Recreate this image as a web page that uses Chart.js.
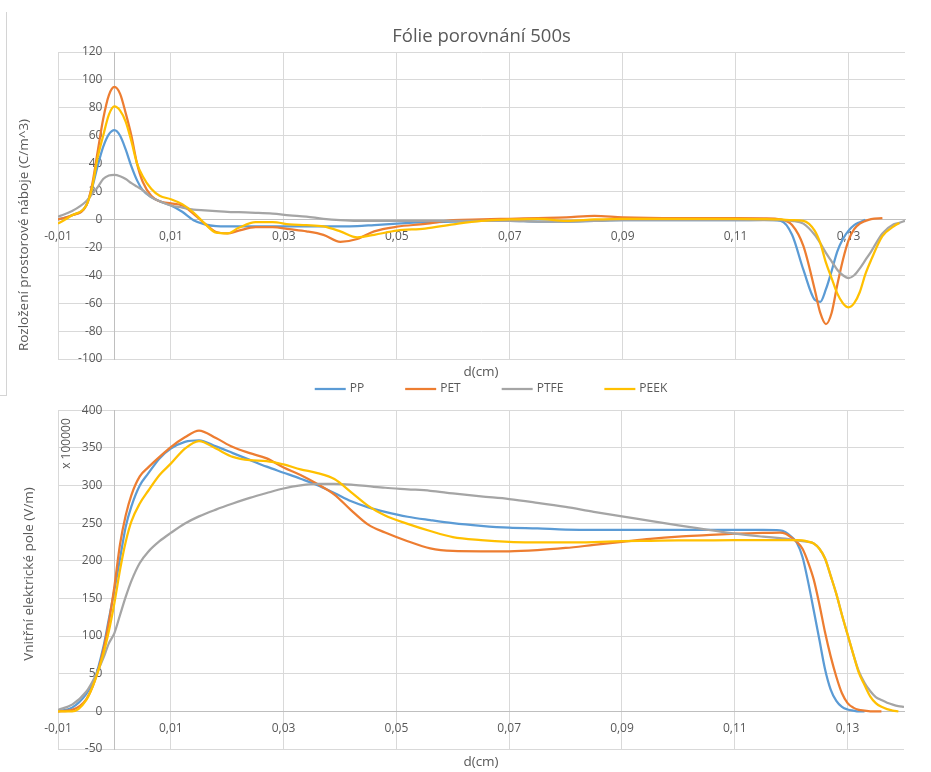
<!DOCTYPE html>
<html>
<head>
<meta charset="utf-8">
<title>Fólie porovnání 500s</title>
<script src="https://cdn.jsdelivr.net/npm/chart.js@4.4.1/dist/chart.umd.min.js"></script>
<style>
  body { margin: 0; background: #fff; width: 931px; height: 772px; position: relative; overflow: hidden; }
  canvas { position: absolute; left: 0; }
  #chargeChart { top: 0; }
  #fieldChart { top: 400px; }
  .frame-v { position: absolute; left: 6px; top: 12px; height: 383px; border-left: 1px solid #d4d4d4; }
  .frame-h { position: absolute; left: 0; top: 395px; width: 7px; border-top: 1px solid #d4d4d4; }
</style>
</head>
<body>
<div class="frame-v"></div>
<div class="frame-h"></div>
<canvas id="chargeChart" width="931" height="400"></canvas>
<canvas id="fieldChart" width="931" height="372"></canvas>
<script>
const seriesNames = ["PP", "PET", "PTFE", "PEEK"];
const seriesColors = ["#5b9bd5", "#ed7d31", "#a5a5a5", "#ffc000"];
const xTickValues = [-0.01, 0.01, 0.03, 0.05, 0.07, 0.09, 0.11, 0.13];

// space charge distribution, d(cm) vs C/m^3
const xCharge = [
  -0.01, -0.0075, -0.005, -0.004, -0.003, -0.002, -0.001, 0, 0.001, 0.002,
  0.003, 0.004, 0.005, 0.0065, 0.008, 0.01, 0.012, 0.014, 0.016, 0.018,
  0.02, 0.022, 0.025, 0.028, 0.031, 0.034, 0.037, 0.04, 0.043, 0.046,
  0.05, 0.055, 0.06, 0.065, 0.07, 0.075, 0.08, 0.085, 0.09, 0.1,
  0.11, 0.115, 0.118, 0.12, 0.122, 0.124, 0.125, 0.126, 0.127, 0.128,
  0.129, 0.13, 0.131, 0.132, 0.133, 0.134, 0.136, 0.138, 0.139, 0.14,
];
const ppCharge = [
  0, 3, 10, 22, 38, 52, 61, 64, 60, 50,
  38, 28, 21, 16, 13, 10, 5.5, -0.5, -3.5, -4.8,
  -5, -5, -5, -5, -5, -5, -5, -5, -4.8, -4,
  -3, -2, -1.5, -1, -1, -1.5, -1.5, -1, -0.5, -0.5,
  -0.5, -0.3, -1, -11, -36, -57.5, -59, -50, -37, -23,
  -14, -8, -4, -2, -0.3, null, null, null, null, null,
];
const petCharge = [
  0, 3, 10, 24, 48, 72, 89, 95, 90, 76,
  60, 40, 27, 17, 13, 11.5, 10, 4, -3, -9,
  -10, -8, -5.5, -5.5, -7, -8.5, -11, -16, -14, -8.5,
  -5.2, -3.2, -0.5, 0, 0.5, 1, 1.5, 2.5, 1.5, 1,
  1, 0.8, 0, -4, -19, -50, -67, -75, -67, -47,
  -29, -15, -7, -3, -1, 0.3, 1, null, null, null,
];
const ptfeCharge = [
  2, 6, 13, 18, 23, 29, 31.5, 32, 31, 29,
  26, 23.5, 21, 16, 13, 10, 8.5, 7, 6.5, 6,
  5.5, 5.2, 4.8, 4.2, 3, 2, 0.5, -0.5, -1, -1,
  -1, -1, -1, -1, -1, -1.5, -1.5, -1, -0.5, -0.5,
  -0.5, -0.5, -0.5, -1, -3, -11, -17, -24, -30, -36,
  -40, -42, -40, -35, -29, -23, -10, -3.5, -2.5, -1,
];
const peekCharge = [
  -3, 3, 10, 22, 44, 60, 75, 81, 78, 70,
  56, 40, 31, 22, 17, 14.5, 11, 5, -3, -9.5,
  -10, -6, -2, -2, -3.5, -4, -5, -8.5, -12.8, -11,
  -8, -6.5, -3.5, -1, 0, 0.5, -1, 0, 0.5, 0.5,
  0.5, 0.3, 0, -0.5, -1, -8, -17, -31, -42, -53,
  -60, -63, -60, -52, -39, -29, -12, -5, -2.5, null,
];

// internal electric field, d(cm) vs V/m (x 100000)
const xField = [
  -0.01, -0.0075, -0.005, -0.0035, -0.002, -0.001, 0, 0.001, 0.002, 0.003,
  0.0045, 0.006, 0.008, 0.01, 0.0125, 0.015, 0.018, 0.021, 0.024, 0.027,
  0.03, 0.033, 0.036, 0.039, 0.042, 0.045, 0.048, 0.052, 0.056, 0.06,
  0.065, 0.07, 0.075, 0.08, 0.085, 0.09, 0.095, 0.1, 0.105, 0.11,
  0.115, 0.118, 0.119, 0.12, 0.121, 0.122, 0.123, 0.124, 0.125, 0.126,
  0.127, 0.128, 0.129, 0.13, 0.131, 0.132, 0.133, 0.134, 0.135, 0.136,
  0.137, 0.138, 0.139, 0.14,
];
const ppField = [
  0, 5, 23, 43, 84, 122, 161, 203, 245, 272,
  300, 316, 336, 349, 358, 360, 352, 343, 334, 325,
  317, 309, 300.5, 290, 279, 271, 265, 258.5, 254, 250,
  246.5, 244, 243, 241.5, 241, 241, 241, 241, 241, 241,
  241, 240.5, 238, 232, 224, 205, 172, 134, 95, 56,
  29, 14, 6, 2.5, 1, 0, 0, null, null, null,
  null, null, null, null,
];
const petField = [
  0, 2, 16, 40, 80, 118, 166, 222, 260, 287,
  312, 324, 338, 351, 364, 373, 363, 351, 343, 336,
  324, 314, 302, 288, 267, 248, 237.5, 226, 216.5, 213,
  212.5, 212.5, 214, 217, 221, 225, 229, 232, 234, 236,
  237, 237.5, 236, 231, 225, 216, 198, 175, 142, 105,
  73, 46, 24, 11, 5, 2, 1, 0, 0, 0,
  null, null, null, null,
];
const ptfeField = [
  2, 9, 26, 45, 70, 90, 104, 128, 152, 173,
  197, 212, 226, 237, 249.5, 259, 268, 276, 283.5, 290,
  296, 300, 302, 302, 301, 299, 297, 295, 293, 289.5,
  285.5, 282, 277, 271.5, 265, 259, 253, 247, 241.5, 236,
  232, 230, 229.5, 228, 227, 226, 225, 223, 216, 203,
  180, 156, 128, 102, 76, 53, 38, 27, 19, 15,
  11.5, 9, 7, 5.8,
];
const peekField = [
  0, 0, 15, 40, 75, 106, 144, 188, 225, 252,
  276, 293, 314, 329, 349, 359, 349, 338, 333.6, 332.5,
  328, 321.5, 316.5, 308.5, 291, 273, 260, 249, 239.5, 231.5,
  227.5, 225.2, 224.5, 224.3, 224.8, 226, 226.5, 227, 227.2, 227.4,
  227.5, 227.5, 227.5, 227.5, 227.5, 227, 225.5, 223, 216, 203,
  180, 156, 128, 102, 76, 51, 35, 20, 11, 6,
  3, 1, 0, null,
];

const textColor = "#595959";
const gridColor = "#d9d9d9";
const axisColor = "#bfbfbf";
const fontFamily = "'Open Sans', sans-serif";

Chart.defaults.font.family = fontFamily;
Chart.defaults.color = textColor;

function toPoints(xs, ys) {
  return xs.map((x, i) => ({ x, y: ys[i] })).filter((p) => p.y !== null);
}

function formatDecimal(value) {
  return value.toFixed(2).replace(".", ",");
}

function buildDatasets(xs, seriesValues) {
  return seriesValues.map((values, i) => ({
    label: seriesNames[i],
    data: toPoints(xs, values),
    borderColor: seriesColors[i],
    backgroundColor: seriesColors[i],
    borderWidth: 2.25,
    pointRadius: 0,
    cubicInterpolationMode: "monotone",
    order: seriesValues.length - i, // PEEK on top, like in Excel
  }));
}

// axis titles sit at the canvas edge, not next to the crossing axes
const axisTitles = {
  id: "axisTitles",
  afterDraw(chart, args, opts) {
    const { ctx } = chart;
    ctx.save();
    ctx.fillStyle = textColor;
    ctx.textAlign = "center";
    ctx.textBaseline = "middle";
    opts.items.forEach((t) => {
      ctx.save();
      ctx.font = `${t.size}px ${fontFamily}`;
      ctx.translate(t.x, t.y);
      if (t.vertical) ctx.rotate(-Math.PI / 2);
      ctx.fillText(t.text, 0, 0);
      ctx.restore();
    });
    ctx.restore();
  },
};

const lineLegend = {
  id: "lineLegend",
  afterDraw(chart, args, opts) {
    const { ctx } = chart;
    const sets = chart.data.datasets;
    ctx.save();
    ctx.font = `${opts.size}px ${fontFamily}`;
    const widths = sets.map((ds) => opts.lineWidth + opts.gap + ctx.measureText(ds.label).width);
    const total = widths.reduce((a, b) => a + b, 0) + opts.spacing * (sets.length - 1);
    let x = opts.centerX - total / 2;
    sets.forEach((ds, i) => {
      ctx.strokeStyle = ds.borderColor;
      ctx.lineWidth = ds.borderWidth;
      ctx.beginPath();
      ctx.moveTo(x, opts.y);
      ctx.lineTo(x + opts.lineWidth, opts.y);
      ctx.stroke();
      ctx.fillStyle = textColor;
      ctx.textBaseline = "middle";
      ctx.fillText(ds.label, x + opts.lineWidth + opts.gap, opts.y);
      x += widths[i] + opts.spacing;
    });
    ctx.restore();
  },
};

function buildOptions(cfg) {
  return {
    responsive: false,
    animation: false,
    layout: { padding: cfg.padding },
    plugins: {
      legend: { display: false },
      tooltip: { enabled: false },
      title: cfg.title || { display: false },
      axisTitles: { items: cfg.titles },
      lineLegend: cfg.legend || {},
    },
    scales: {
      x: {
        type: "linear",
        min: -0.01,
        max: 0.14,
        position: { y: 0 },
        afterBuildTicks: (scale) => {
          scale.ticks = xTickValues.map((value) => ({ value }));
        },
        grid: { color: gridColor, drawTicks: false },
        border: { color: axisColor },
        ticks: {
          color: textColor,
          font: { size: 12 },
          padding: 10,
          autoSkip: false,
          maxRotation: 0,
          callback: (value) => formatDecimal(value),
        },
      },
      y: {
        type: "linear",
        min: cfg.yMin,
        max: cfg.yMax,
        position: { x: 0 },
        grid: {
          color: (c) => (c.tick && c.tick.value === 0 ? axisColor : gridColor),
          drawTicks: false,
        },
        border: { color: axisColor },
        ticks: {
          stepSize: cfg.yStep,
          color: textColor,
          font: { size: 12 },
          // labels are right-aligned on the crossing axis, so pad them with two en spaces
          callback: (value) => `${value}\u2002\u2002`,
        },
      },
    },
  };
}

const chargeChart = new Chart(document.getElementById("chargeChart"), {
  type: "line",
  data: { datasets: buildDatasets(xCharge, [ppCharge, petCharge, ptfeCharge, peekCharge]) },
  options: buildOptions({
    padding: { left: 58, right: 26, top: 26, bottom: 41 },
    yMin: -100,
    yMax: 120,
    yStep: 20,
    title: {
      display: true,
      text: "Fólie porovnání 500s",
      color: textColor,
      font: { size: 18.5, weight: "normal" },
      padding: { top: 0, bottom: 3.8 },
    },
    titles: [
      { text: "d(cm)", x: 481, y: 372, size: 13.5 },
      { text: "Rozložení prostorové náboje (C/m^3)", x: 24, y: 235, size: 13.5, vertical: true },
    ],
    legend: { y: 389, centerX: 491, lineWidth: 31, gap: 4, spacing: 41, size: 12 },
  }),
  plugins: [axisTitles, lineLegend],
});

const fieldChart = new Chart(document.getElementById("fieldChart"), {
  type: "line",
  data: { datasets: buildDatasets(xField, [ppField, petField, ptfeField, peekField]) },
  options: buildOptions({
    padding: { left: 58, right: 27, top: 10, bottom: 23 },
    yMin: -50,
    yMax: 400,
    yStep: 50,
    titles: [
      { text: "d(cm)", x: 481, y: 362.5, size: 13.5 },
      { text: "Vnitřní elektrické pole (V/m)", x: 29, y: 174, size: 13.5, vertical: true },
      { text: "x 100000", x: 67, y: 43.5, size: 12, vertical: true },
    ],
  }),
  plugins: [axisTitles],
});
</script>
</body>
</html>
